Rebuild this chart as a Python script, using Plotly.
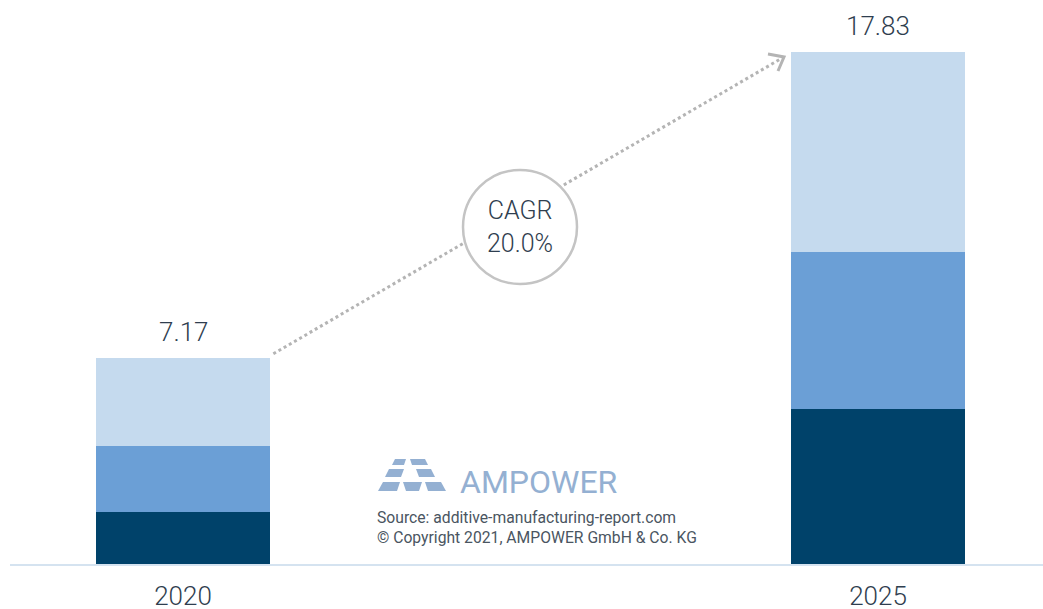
import plotly.graph_objects as go

years = ["2020", "2025"]
seg_dark = [1.81, 5.40]
seg_mid = [2.30, 5.47]
seg_light = [3.06, 6.96]
totals = [7.17, 17.83]
cagr_text = "CAGR<br>20.0%"
source_lines = ["Source: additive-manufacturing-report.com",
                "© Copyright 2021, AMPOWER GmbH & Co. KG"]

W, H = 1043, 609
ML, MR, MT, MB = 10, 0, 0, 45
PW, PH = W - ML - MR, H - MT - MB

def px(x):
    return (x - ML) / PW

def py(y):
    return (MT + PH - y) / PH

xs = [0, 1]
BW = 0.25
FONT = "Roboto Light, Roboto, sans-serif"
TXT = "#2f3e4f"

fig = go.Figure()
for vals, col, name in [(seg_dark, "#00426a", "a"), (seg_mid, "#6b9fd6", "b"), (seg_light, "#c5daee", "c")]:
    fig.add_trace(go.Bar(x=xs, y=vals, marker=dict(color=col, line=dict(width=0)),
                         width=BW, name=name, showlegend=False, hoverinfo="skip"))

# total labels
for x, t in zip(xs, totals):
    fig.add_annotation(x=x, y=t, text=f"{t:.2f}", showarrow=False, yanchor="bottom",
                       yshift=9, font=dict(family=FONT, size=26, color=TXT))

# dotted growth arrow
x0, y0 = xs[0] + BW / 2 + 0.005, totals[0] + 0.15
x1, y1 = xs[1] - BW / 2 - 0.012, totals[1] - 0.2
fig.add_shape(type="line", x0=x0, y0=y0, x1=x1, y1=y1, xref="x", yref="y",
              line=dict(color="#b4b4b4", width=3, dash="dot"))
# arrowhead (open chevron)
tipx, tipy = 784, 57
fig.add_shape(type="path", xref="paper", yref="paper",
              path=f"M {px(768)},{py(54)} L {px(tipx)},{py(tipy)} L {px(778)},{py(71)}",
              line=dict(color="#b4b4b4", width=3))

# CAGR circle
cx, cy, r = 520, 227, 57
fig.add_shape(type="circle", xref="paper", yref="paper",
              x0=px(cx - r), x1=px(cx + r), y0=py(cy + r), y1=py(cy - r),
              fillcolor="white", line=dict(color="#c4c4c4", width=2.5))
fig.add_annotation(xref="paper", yref="paper", x=px(cx), y=py(cy), text=cagr_text,
                   showarrow=False, font=dict(family=FONT, size=25, color=TXT),
                   align="center")

# AMPOWER logo
logo_col = "#94b0d2"
polys = [
    [(395, 459), (406, 459), (404, 465), (392, 465)],
    [(410, 459), (425, 459), (428, 465), (412, 465)],
    [(389, 469), (404, 469), (401, 477), (385, 477)],
    [(416, 469), (431, 469), (435, 477), (419, 477)],
    [(383, 482), (400, 482), (397, 491), (378, 491)],
    [(403, 482), (422, 482), (419, 491), (406, 491)],
    [(425, 482), (441, 482), (446, 491), (428, 491)],
]
for p in polys:
    path = "M " + " L ".join(f"{px(a)},{py(b)}" for a, b in p) + " Z"
    fig.add_shape(type="path", xref="paper", yref="paper", path=path,
                  fillcolor=logo_col, line=dict(width=0))
fig.add_annotation(xref="paper", yref="paper", x=px(458), y=py(482), text="AMPOWER",
                   showarrow=False, xanchor="left", yanchor="middle",
                   font=dict(family="Roboto, sans-serif", size=32, color=logo_col))
for i, line in enumerate(source_lines):
    fig.add_annotation(xref="paper", yref="paper", x=px(375), y=py(517 + 20 * i), text=line,
                       showarrow=False, xanchor="left", yanchor="middle",
                       font=dict(family="Roboto, sans-serif", size=15.7, color="#4a5561"))

xl = -(183 - ML) / 695
xr = 1 + (W - MR - 878) / 695
fig.update_layout(
    width=W, height=H, margin=dict(l=ML, r=MR, t=MT, b=MB, autoexpand=False),
    barmode="stack", bargap=0, plot_bgcolor="white", paper_bgcolor="white",
    xaxis=dict(range=[xl, xr], tickvals=xs, ticktext=years, showgrid=False, zeroline=False,
               showline=True, linecolor="#d5e3f0", linewidth=2, ticks="", automargin=False,
               tickfont=dict(family=FONT, size=26, color=TXT), ticklabelstandoff=8),
    yaxis=dict(range=[0, PH / 28.72], visible=False, showgrid=False, zeroline=False,
               automargin=False),
)
fig.write_html("out.html", config={"displayModeBar": False},
               post_script="document.body.style.margin='0px';document.body.style.overflow='hidden';")
